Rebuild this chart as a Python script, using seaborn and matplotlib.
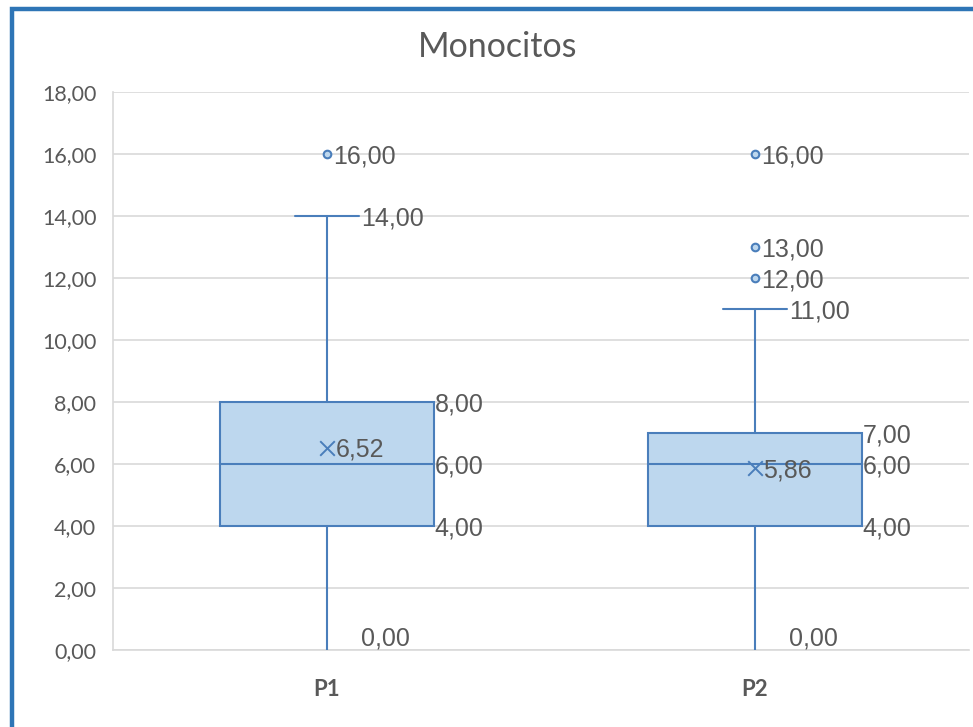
import matplotlib
matplotlib.use("Agg")
import matplotlib.pyplot as plt
from matplotlib.patches import Rectangle
import seaborn as sns
import pandas as pd

# summary values
groups = ["P1", "P2"]
whisker_low = [0.0, 0.0]
q1 = [4.0, 4.0]
median = [6.0, 6.0]
q3 = [8.0, 7.0]
whisker_high = [14.0, 11.0]
means = [6.52, 5.86]
outliers = [[16.0], [16.0, 13.0, 12.0]]

TEXT = "#595959"
EDGE = "#4A7EBB"
FILL = "#BDD7EE"
GRID = "#D9D9D9"


def fmt(v):
    return f"{v:.2f}".replace(".", ",")


sns.set_theme(style="white")
plt.rcParams["font.family"] = ["Lato", "DejaVu Sans"]

fig = plt.figure(figsize=(9.73, 7.27), dpi=100)
ax = fig.add_axes([113 / 973, 1 - 650 / 727, (969 - 113) / 973, (650 - 92) / 727])

stats = []
for i, g in enumerate(groups):
    stats.append(dict(label=g, whislo=whisker_low[i], q1=q1[i], med=median[i],
                      q3=q3[i], whishi=whisker_high[i], mean=means[i], fliers=[]))

parts = ax.bxp(stats, positions=[0, 1], widths=0.5, capwidths=0.15,
               showmeans=False, showfliers=False, patch_artist=True,
               boxprops=dict(facecolor=FILL, edgecolor=EDGE, linewidth=1.5),
               medianprops=dict(color=EDGE, linewidth=1.5),
               whiskerprops=dict(color=EDGE, linewidth=1.5),
               capprops=dict(color=EDGE, linewidth=1.5), zorder=3)
# lower caps are not shown in the reference
for k, cap in enumerate(parts["caps"]):
    if k % 2 == 0:
        cap.set_visible(False)

# means and outliers
mean_df = pd.DataFrame({"x": [0, 1], "y": means})
sns.scatterplot(data=mean_df, x="x", y="y", marker="x", s=110, color=EDGE,
                linewidth=1.4, ax=ax, zorder=4)
out_x, out_y = [], []
for i, vals in enumerate(outliers):
    out_x += [i] * len(vals)
    out_y += vals
out_df = pd.DataFrame({"x": out_x, "y": out_y})
sns.scatterplot(data=out_df, x="x", y="y", marker="o", s=30, color=FILL,
                edgecolor=EDGE, linewidth=1.5, ax=ax, zorder=4)

# data labels
lab = dict(color=TEXT, fontsize=18, family=["Liberation Sans", "DejaVu Sans"],
           zorder=5, textcoords="offset points")
dy = -1.5
for i in range(len(groups)):
    for v in (q1[i], median[i], q3[i]):
        ax.annotate(fmt(v), (i + 0.252, v), xytext=(0, dy),
                    ha="left", va="center", **lab)
    ax.annotate(fmt(whisker_high[i]), (i + 0.08, whisker_high[i]), xytext=(0, dy),
                ha="left", va="center", **lab)
    ax.annotate(fmt(whisker_low[i]), (i + 0.08, whisker_low[i]), xytext=(0, 3),
                ha="left", va="baseline", **lab)
    ax.annotate(fmt(means[i]), (i, means[i]), xytext=(6, dy),
                ha="left", va="center", **lab)
    for v in outliers[i]:
        ax.annotate(fmt(v), (i, v), xytext=(4.5, dy),
                    ha="left", va="center", **lab)

ax.set_xlim(-0.5, 1.5)
ax.set_ylim(0, 18)
ax.set_yticks(range(0, 19, 2))
ax.set_yticklabels([fmt(v) for v in range(0, 19, 2)], color=TEXT, fontsize=15.5)
ax.set_xticks([0, 1])
ax.set_xticklabels(groups, color=TEXT, fontsize=16, fontweight="bold")
ax.tick_params(axis="y", length=0, pad=12)
ax.tick_params(axis="x", length=0, pad=21)
ax.set_xlabel("")
ax.set_ylabel("")
ax.grid(axis="y", color=GRID, linewidth=1.2, zorder=0)
ax.set_axisbelow(True)
for side in ("top", "right"):
    ax.spines[side].set_visible(False)
for side in ("left", "bottom"):
    ax.spines[side].set_color(GRID)
    ax.spines[side].set_linewidth(1.2)

fig.text(498 / 973, 1 - 57 / 727, "Monocitos", ha="center", va="baseline",
         color=TEXT, fontsize=24.5)

# chart frame
fig.patches.append(Rectangle((12 / 973, -0.1), 1.2, 1.1 - 9 / 727,
                             transform=fig.transFigure, fill=False,
                             edgecolor="#2E75B6", linewidth=3.2))

fig.savefig("out.png", dpi=100)
